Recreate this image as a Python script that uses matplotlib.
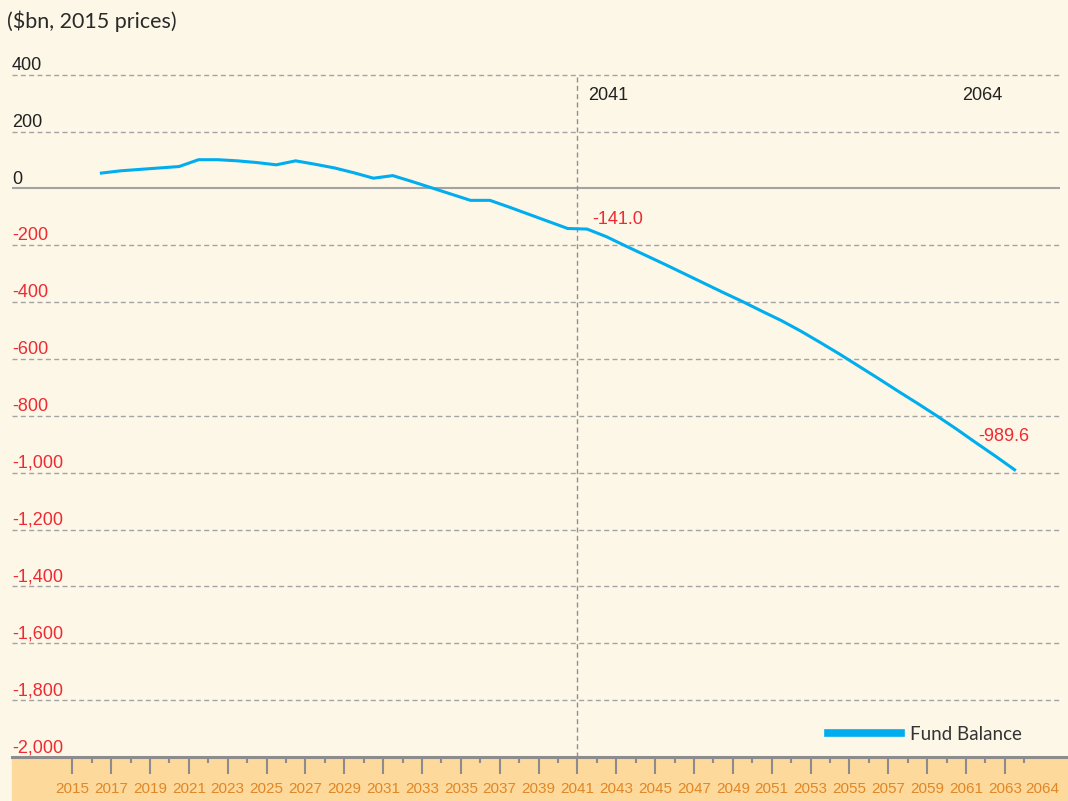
import matplotlib
matplotlib.use("Agg")
import matplotlib.pyplot as plt
from matplotlib import font_manager
from matplotlib.patches import Rectangle

# data
years = list(range(2017, 2065))
balance = [54, 62, 67, 72, 77, 101, 101, 97, 91, 83, 97, 85, 72, 55, 36, 45,
           24, 2, -20, -42, -42, -66, -91, -116, -141.0, -143,
           -170, -203, -235, -267, -300, -333, -366, -398, -432, -465, -502,
           -542, -583, -626, -669, -713, -756, -800, -846, -894, -941, -989.6]

y_ticks = [400, 200, 0, -200, -400, -600, -800, -1000, -1200, -1400,
           -1600, -1800, -2000]
y_labels = ["400", "200", "0", "-200", "-400", "-600", "-800", "-1,000",
            "-1,200", "-1,400", "-1,600", "-1,800", "-2,000"]
x_major = list(range(2015, 2064, 2))
x_minor = list(range(2016, 2065, 2))
mark_years = [2041, 2064]
mark_labels = ["-141.0", "-989.6"]

bg = "#FDF7E7"
band = "#FDD99B"
orange = "#E08728"
red = "#EE2A33"
blue = "#00AEEF"
grey = "#A3A3A3"
plain = ["Liberation Sans", "DejaVu Sans"]

# condensed font for the year labels if there is one
names = {f.name for f in font_manager.fontManager.ttflist}
narrow, narrow_size = "Liberation Sans", 11
for cand in ["Liberation Sans Narrow", "DejaVu Sans Condensed"]:
    if cand in names:
        narrow, narrow_size = cand, 12
        break

W, H = 1068, 801
fig = plt.figure(figsize=(W / 100, H / 100), dpi=100, facecolor=bg)
ax = fig.add_axes([12 / W, 1 - 757 / H, 1 - 12 / W, (757 - 74.7) / H])
ax.set_facecolor(bg)

# orange band under the axis
fig.patches.append(Rectangle((12 / W, 0), 1 - 12 / W, 1 - 757 / H,
                             transform=fig.transFigure, color=band, zorder=-5))

# categories sit between the ticks
xs = [y - 0.5 for y in years]
ax.set_xlim(2011.9, 2066.25)
ax.set_ylim(-2000, 400)
grid_end = 2065.84

for v, lab in zip(y_ticks, y_labels):
    if v == 0:
        ax.hlines(v, 2011.9, grid_end, color=grey, lw=1.5, zorder=1)
    elif v != -2000:
        ax.hlines(v, 2011.9, grid_end, color=grey, lw=1.0,
                  linestyles=(0, (3.6, 2.4)), clip_on=False, zorder=1)
    ax.annotate(lab, xy=(0, v), xycoords=("axes fraction", "data"),
                xytext=(0, 3.5), textcoords="offset points",
                ha="left", va="baseline", fontsize=13, family=plain,
                color="#222222" if v >= 0 else red)

# marker line at 2041
ax.axvline(mark_years[0], color="#909090", lw=1.0,
           linestyle=(0, (3.6, 2.4)), zorder=1)

ax.plot(xs, balance, color=blue, lw=2.2, zorder=3, label="Fund Balance",
        solid_joinstyle="miter")

# year labels at top
ax.annotate(str(mark_years[0]), xy=(mark_years[0], 400), xytext=(8, -18),
            textcoords="offset points", ha="left", va="baseline",
            fontsize=13, family=plain, color="#222222")
ax.annotate(str(mark_years[1]), xy=(xs[-1], 400), xytext=(-38, -18),
            textcoords="offset points", ha="left", va="baseline",
            fontsize=13, family=plain, color="#222222")

# value labels
i41 = years.index(mark_years[0])
ax.annotate(mark_labels[0], xy=(xs[i41], balance[i41]), xytext=(18, 3.6),
            textcoords="offset points", ha="left", va="baseline",
            fontsize=13, family=plain, color=red)
ax.annotate(mark_labels[1], xy=(xs[-1], balance[-1]), xytext=(-26.4, 20.9),
            textcoords="offset points", ha="left", va="baseline",
            fontsize=13, family=plain, color=red)

# axis / ticks
for s in ["top", "left", "right"]:
    ax.spines[s].set_visible(False)
ax.spines["bottom"].set_color("#8C8C8C")
ax.spines["bottom"].set_linewidth(2.2)
ax.set_yticks([])
ax.set_xticks(x_major)
ax.set_xticks(x_minor, minor=True)
ax.set_xticklabels([str(y) for y in x_major], fontsize=narrow_size,
                   family=narrow, color=orange)
ax.tick_params(axis="x", which="major", length=12.5, width=1.5,
               color="#8C8C8C", pad=5.5)
ax.tick_params(axis="x", which="minor", length=4, width=1.5,
               color="#8C8C8C")
ax.annotate("2064", xy=(2064, 0), xycoords=("data", "axes fraction"),
            xytext=(1, -18), textcoords="offset points", ha="left",
            va="top", fontsize=narrow_size, family=narrow, color=orange,
            annotation_clip=False)

leg = ax.legend(loc="lower left", bbox_to_anchor=(828 / W, (801 - 743) / H),
                bbox_transform=fig.transFigure, frameon=False,
                handlelength=3.9, handletextpad=0.5, borderpad=0,
                borderaxespad=0, prop={"family": "Lato", "size": 13.5})
for h in leg.get_lines():
    h.set_linewidth(5.5)
for t in leg.get_texts():
    t.set_color("#333333")

fig.text(7 / W, 1 - 28.5 / H, "($bn, 2015 prices)", ha="left",
         va="baseline", fontsize=15.5, family="Lato", color="#2A2A2A")

fig.savefig("out.png", dpi=100, facecolor=bg)
